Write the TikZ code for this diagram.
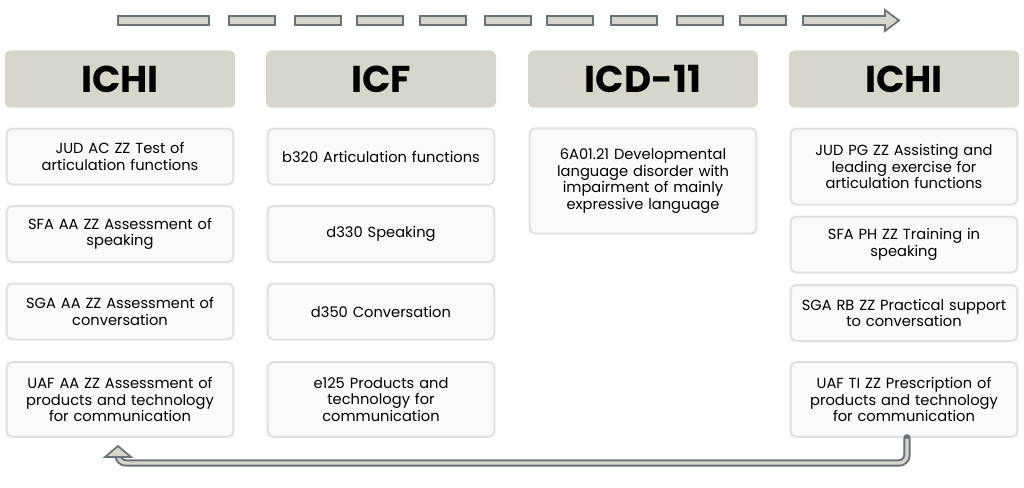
\documentclass[tikz,border=0pt]{standalone}
\usepackage{fontspec}
\setmainfont{Poppins}
\usetikzlibrary{arrows.meta,calc}
\definecolor{headfill}{RGB}{216,214,202}
\definecolor{boxline}{RGB}{222,224,226}
\definecolor{boxfill}{RGB}{249,250,251}
\definecolor{arrline}{RGB}{105,115,122}
\tikzset{
  head/.style={fill=headfill, rounded corners=4pt, minimum width=172.5pt, minimum height=43pt, font=\fontsize{28}{30}\selectfont\bfseries, inner sep=0pt},
  item/.style={draw=boxline, line width=1.5pt, fill=boxfill, rounded corners=4pt, minimum width=170pt, align=center, text width=168pt, font=\fontsize{11}{12.3}\selectfont, inner sep=0pt},
  dashbox/.style={draw=arrline, line width=1.3pt, fill=headfill},
  flow/.style={draw=arrline, line width=5.5pt, line cap=round},
  flowin/.style={draw=headfill, line width=2.5pt},
}
\begin{document}
\begin{tikzpicture}[x=0.75pt, y=-0.75pt]
\useasboundingbox (0,0) rectangle (1024,487);
% top dashed arrow
\foreach \a/\b in {118/209,229/275,295/341,357/403,420/466,485/531,547/593,611/657,677/723,740/786}
  \draw[dashbox] (\a,16) rectangle (\b,25);
\draw[dashbox] (803,16) -- (885,16) -- (885,10) -- (899,20.5) -- (885,31) -- (885,25) -- (803,25) -- cycle;
% headers
\node[head] (h1) at (120,79) {ICHI};
\node[head] (h2) at (381,79) {ICF};
\node[head] (h3) at (643,79) {ICD-11};
\node[head] (h4) at (904,79) {ICHI};
% column 1
\node[item, minimum height=42pt] (a1) at (120,156.5) {JUD AC ZZ Test of\\articulation functions};
\node[item, minimum height=42pt] (a2) at (120,234) {SFA AA ZZ Assessment of\\speaking};
\node[item, minimum height=42pt] (a3) at (120,311.5) {SGA AA ZZ Assessment of\\conversation};
\node[item, minimum height=56pt] (a4) at (120,399.5) {UAF AA ZZ Assessment of\\products and technology\\for communication};
% column 2
\node[item, minimum height=42pt] (b1) at (381,156.5) {b320 Articulation functions};
\node[item, minimum height=42pt] (b2) at (381,234) {d330 Speaking};
\node[item, minimum height=42pt] (b3) at (381,311.5) {d350 Conversation};
\node[item, minimum height=56pt] (b4) at (381,399.5) {e125 Products and\\technology for\\communication};
% column 3
\node[item, minimum height=79pt] (c1) at (643,181) {6A01.21 Developmental\\language disorder with\\impairment of mainly\\expressive language};
% column 4
\node[item, minimum height=57pt] (d1) at (904,166.5) {JUD PG ZZ Assisting and\\leading exercise for\\articulation functions};
\node[item, minimum height=42pt] (d2) at (904,244.5) {SFA PH ZZ Training in\\speaking};
\node[item, minimum height=42pt] (d3) at (904,313) {SGA RB ZZ Practical support\\to conversation};
\node[item, minimum height=56pt] (d4) at (904,399.5) {UAF TI ZZ Prescription of\\products and technology\\for communication};
% return arrow
\coordinate (r1) at (907,463);
\coordinate (r2) at (118,463);
\coordinate (r3) at (118,453);
\draw[flow, rounded corners=6pt] (d4.south -| r1) -- (r1) -- (r2) -- (r3);
\draw[flowin, rounded corners=6pt] ($(d4.south -| r1)+(0,1)$) -- (r1) -- (r2) -- ($(r3)+(0,1)$);
\draw[draw=arrline, fill=headfill, line width=1.3pt] (105,457) -- (118,446) -- (131,457) -- cycle;
\end{tikzpicture}
\end{document}
